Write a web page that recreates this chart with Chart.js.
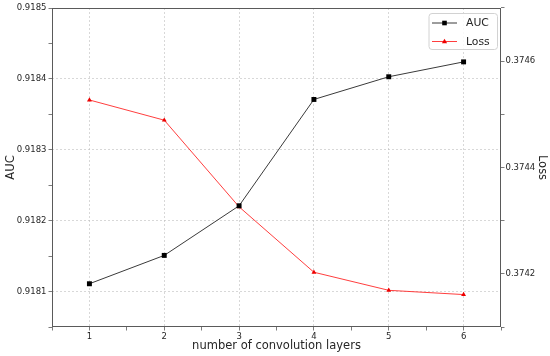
<!DOCTYPE html>
<html>
<head>
<meta charset="utf-8">
<script src="https://cdn.jsdelivr.net/npm/chart.js@4/dist/chart.umd.min.js"></script>
<style>
html,body{margin:0;padding:0;background:#fff;}
#wrap{width:550px;height:356px;position:relative;}
</style>
</head>
<body>
<div id="wrap"><canvas id="c" width="550" height="356"></canvas></div>
<script>
const layers = [1, 2, 3, 4, 5, 6];
const aucValues = [0.918111, 0.918151, 0.918221, 0.918371, 0.918403, 0.918424];
const lossValues = [0.374527, 0.374489, 0.374326, 0.374203, 0.374169, 0.374161];
const xTickLabels = ['1', '2', '3', '4', '5', '6'];
const aucTickLabels = ['0.9181', '0.9182', '0.9183', '0.9184', '0.9185'];
const lossTickLabels = ['0.3742', '0.3744', '0.3746'];
const xLabel = 'number of convolution layers';
const aucLabel = 'AUC';
const lossLabel = 'Loss';

const FONT = "'DejaVu Sans', sans-serif";
const tickFont = {family: FONT, size: 8.5};
const titleFont = {family: FONT, size: 11.5};
const gridColor = 'rgba(190,190,190,0.6)';
const frameColor = '#5a5a5a';
const textColor = '#262626';

function buildTicks(labels) {
  const vals = labels.map(parseFloat);
  const step = vals.length > 1 ? vals[1] - vals[0] : 1;
  const ticks = [];
  vals.forEach((v, i) => {
    ticks.push({value: v, isMajor: true, text: labels[i]});
  });
  const first = vals[0] - step / 2;
  for (let k = 0; k <= vals.length; k++) {
    ticks.push({value: first + k * step, isMajor: false, text: ''});
  }
  ticks.sort((a, b) => a.value - b.value);
  return ticks;
}

function axisTicks(labels) {
  return {
    afterBuildTicks: (scale) => { scale.ticks = buildTicks(labels); },
    afterTickToLabelConversion: (scale) => {
      scale.ticks.forEach(t => { t.label = t.text; });
    }
  };
}

const framePlugin = {
  id: 'frame',
  beforeDatasetsDraw(chart) {
    const {ctx, chartArea: a} = chart;
    ctx.save();
    ctx.strokeStyle = frameColor;
    ctx.lineWidth = 1;
    ctx.strokeRect(Math.round(a.left) + 0.5, Math.round(a.top) + 0.5,
      Math.round(a.right - a.left) - 1, Math.round(a.bottom - a.top) - 1);
    ctx.restore();
  }
};

const legendPlugin = {
  id: 'mplLegend',
  afterDraw(chart) {
    const {ctx, chartArea: a} = chart;
    const x0 = a.right - 72, y0 = a.top + 5.5, w = 68.5, h = 36;
    ctx.save();
    ctx.fillStyle = 'rgba(255,255,255,0.85)';
    ctx.strokeStyle = 'rgba(210,210,210,1)';
    ctx.lineWidth = 1;
    const r = 3;
    ctx.beginPath();
    ctx.moveTo(x0 + r, y0);
    ctx.lineTo(x0 + w - r, y0);
    ctx.quadraticCurveTo(x0 + w, y0, x0 + w, y0 + r);
    ctx.lineTo(x0 + w, y0 + h - r);
    ctx.quadraticCurveTo(x0 + w, y0 + h, x0 + w - r, y0 + h);
    ctx.lineTo(x0 + r, y0 + h);
    ctx.quadraticCurveTo(x0, y0 + h, x0, y0 + h - r);
    ctx.lineTo(x0, y0 + r);
    ctx.quadraticCurveTo(x0, y0, x0 + r, y0);
    ctx.closePath();
    ctx.fill();
    ctx.stroke();
    chart.data.datasets.forEach((ds, i) => {
      const cy = y0 + 9.5 + i * 18.5;
      ctx.strokeStyle = ds.borderColor;
      ctx.lineWidth = ds.borderWidth;
      ctx.beginPath();
      ctx.moveTo(x0 + 3, cy);
      ctx.lineTo(x0 + 28, cy);
      ctx.stroke();
      ctx.fillStyle = ds.pointBackgroundColor;
      const cx = x0 + 15.5;
      if (ds.pointStyle === 'rect') {
        ctx.fillRect(cx - 2.3, cy - 2.3, 4.6, 4.6);
      } else {
        ctx.beginPath();
        ctx.moveTo(cx, cy - 2.8);
        ctx.lineTo(cx + 2.6, cy + 1.8);
        ctx.lineTo(cx - 2.6, cy + 1.8);
        ctx.closePath();
        ctx.fill();
      }
      ctx.fillStyle = textColor;
      ctx.font = `10.8px ${FONT}`;
      ctx.textBaseline = 'middle';
      ctx.textAlign = 'left';
      ctx.fillText(ds.label, x0 + 37, cy + 0.5);
    });
    ctx.restore();
  }
};

new Chart(document.getElementById('c'), {
  type: 'line',
  data: {
    datasets: [
      {
        label: aucLabel,
        data: layers.map((x, i) => ({x, y: aucValues[i]})),
        yAxisID: 'yAuc',
        borderColor: '#3a3a3a',
        borderWidth: 1,
        pointStyle: 'rect',
        pointRadius: 3.5,
        pointBackgroundColor: '#000',
        pointBorderWidth: 0,
        tension: 0
      },
      {
        label: lossLabel,
        data: layers.map((x, i) => ({x, y: lossValues[i]})),
        yAxisID: 'yLoss',
        borderColor: '#ff2828',
        borderWidth: 0.9,
        pointStyle: 'triangle',
        pointRadius: 2.8,
        pointBackgroundColor: '#ee0000',
        pointBorderWidth: 0,
        tension: 0
      }
    ]
  },
  options: {
    responsive: false,
    animation: false,
    devicePixelRatio: 1,
    layout: {padding: {top: 8, left: 0, right: 0, bottom: 0}},
    plugins: {legend: {display: false}, tooltip: {enabled: false}},
    scales: {
      x: {
        type: 'linear',
        min: 0.5, max: 6.5,
        ...axisTicks(xTickLabels),
        afterFit: (s) => { s.height = 29; },
        ticks: {font: tickFont, color: textColor, padding: 1, maxRotation: 0, autoSkip: false},
        grid: {
          color: (ctx) => (ctx.tick && ctx.tick.isMajor) ? gridColor : 'rgba(0,0,0,0)',
          tickColor: frameColor, tickLength: 3.5, tickWidth: 0.8, tickBorderDash: []
        },
        border: {display: false, dash: [2, 2]},
        title: {display: true, text: xLabel, font: titleFont, color: textColor, padding: {top: 0, bottom: 3}}
      },
      yAuc: {
        type: 'linear', position: 'left',
        min: 0.91805, max: 0.9185,
        ...axisTicks(aucTickLabels),
        afterFit: (s) => { s.width = 52; },
        ticks: {font: tickFont, color: textColor, padding: 2, autoSkip: false},
        grid: {
          color: (ctx) => (ctx.tick && ctx.tick.isMajor) ? gridColor : 'rgba(0,0,0,0)',
          tickColor: frameColor, tickLength: 3.5, tickWidth: 0.8, tickBorderDash: []
        },
        border: {display: false, dash: [2, 2]},
        title: {display: true, text: aucLabel, font: titleFont, color: textColor, padding: {top: 4, bottom: 0}}
      },
      yLoss: {
        type: 'linear', position: 'right',
        min: 0.3741, max: 0.3747,
        ...axisTicks(lossTickLabels),
        afterFit: (s) => { s.width = 49; },
        ticks: {font: tickFont, color: textColor, padding: 1, autoSkip: false},
        grid: {
          drawOnChartArea: false,
          tickColor: frameColor, tickLength: 3.5, tickWidth: 0.8, tickBorderDash: []
        },
        border: {display: false},
        title: {display: true, text: lossLabel, font: titleFont, color: textColor, padding: {top: 1.5, bottom: 0}}
      }
    }
  },
  plugins: [framePlugin, legendPlugin]
});
</script>
</body>
</html>
